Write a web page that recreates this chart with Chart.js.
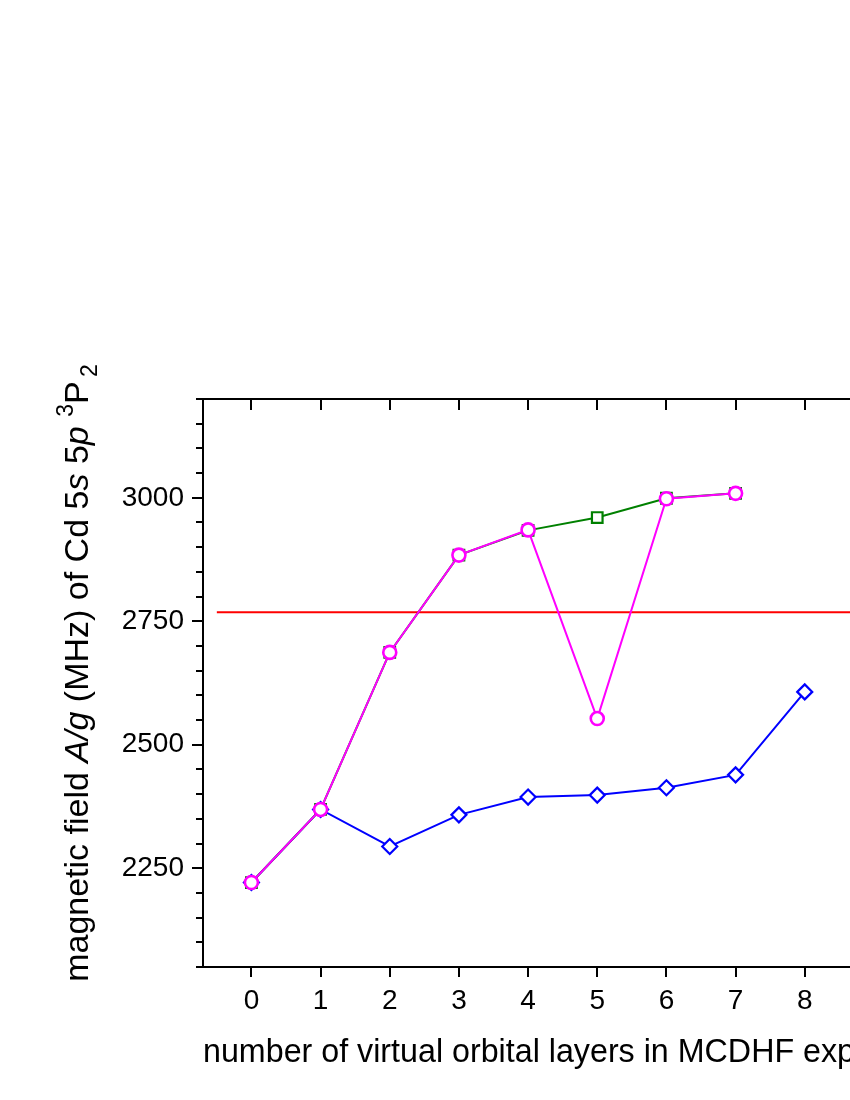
<!DOCTYPE html>
<html>
<head>
<meta charset="utf-8">
<script src="https://cdn.jsdelivr.net/npm/chart.js@4.4.0/dist/chart.umd.min.js"></script>
<style>
  html, body { margin: 0; padding: 0; background: #fff; overflow: hidden; }
  #wrap { position: relative; width: 1000px; height: 1100px; }
</style>
</head>
<body>
<div id="wrap"><canvas id="chart" width="1000" height="1100"></canvas></div>
<script>
// values
var layers = [0, 1, 2, 3, 4, 5, 6, 7, 8];
var diamondValues = [2221, 2369, 2294, 2358, 2394, 2398, 2413, 2439, 2607];
var squareValues = [2221, 2369, 2687, 2884, 2934, 2960, 2999, 3009];
var circleValues = [2221, 2369, 2687, 2884, 2935, 2553, 2998, 3009];
var referenceValue = 2768;
var referenceFrom = -0.5, referenceTo = 10;
var yLabelTicks = [2250, 2500, 2750, 3000];

var FONT = '"Liberation Sans", Arial, Helvetica, sans-serif';

function points(xs, ys) {
  return ys.map(function(v, i) { return { x: xs[i], y: v }; });
}

// frame + Origin style ticks (outward left/bottom, inward top)
var axisFrame = {
  id: 'axisFrame',
  afterDatasetsDraw: function(chart) {
    var ctx = chart.ctx, a = chart.chartArea;
    var xs = chart.scales.x, ys = chart.scales.y;
    ctx.save();
    ctx.strokeStyle = '#000';
    ctx.lineWidth = 2;
    ctx.lineCap = 'square';
    ctx.beginPath();
    ctx.moveTo(a.left, a.top); ctx.lineTo(a.right, a.top);
    ctx.moveTo(a.left, a.top); ctx.lineTo(a.left, a.bottom);
    ctx.moveTo(a.left, a.bottom); ctx.lineTo(a.right, a.bottom);
    ctx.moveTo(a.right, a.top); ctx.lineTo(a.right, a.bottom);
    ctx.stroke();
    ctx.lineCap = 'butt';
    ctx.beginPath();
    for (var i = Math.ceil(xs.min); i <= Math.floor(xs.max); i++) {
      var px = Math.round(xs.getPixelForValue(i));
      ctx.moveTo(px, a.bottom); ctx.lineTo(px, a.bottom + 10);
      ctx.moveTo(px, a.top); ctx.lineTo(px, a.top + 11);
    }
    ys.ticks.forEach(function(t) {
      var py = Math.round(ys.getPixelForValue(t.value));
      var len = (t.value % 250 === 0) ? 11 : 7;
      ctx.moveTo(a.left - len, py); ctx.lineTo(a.left, py);
      ctx.moveTo(a.right - len, py); ctx.lineTo(a.right, py);
    });
    ctx.stroke();
    ctx.restore();
  },
  afterDraw: function(chart) {
    // y title with italic parts, superscript and subscript
    var ctx = chart.ctx;
    var size = 34;
    var runs = [
      { t: 'magnetic field ', s: '' },
      { t: 'A/g', s: 'italic ' },
      { t: ' (MHz) of Cd 5', s: '' },
      { t: 's', s: 'italic ' },
      { t: ' 5', s: '' },
      { t: 'p', s: 'italic ' },
      { t: ' ', s: '' },
      { t: '3', s: '', sz: 23, dy: -15 },
      { t: 'P', s: '' },
      { t: ' ', s: '', sz: 16 },
      { t: '2', s: '', sz: 23, dy: 9 }
    ];
    ctx.save();
    var total = 0;
    runs.forEach(function(r) {
      ctx.font = r.s + (r.sz || size) + 'px ' + FONT;
      r.w = ctx.measureText(r.t).width;
      total += r.w;
    });
    ctx.translate(88, 673);
    ctx.rotate(-Math.PI / 2);
    ctx.fillStyle = '#000';
    ctx.textBaseline = 'alphabetic';
    ctx.textAlign = 'left';
    var x = -total / 2;
    runs.forEach(function(r) {
      ctx.font = r.s + (r.sz || size) + 'px ' + FONT;
      ctx.fillText(r.t, x, r.dy || 0);
      x += r.w;
    });
    ctx.restore();
  }
};

new Chart(document.getElementById('chart'), {
  type: 'line',
  data: {
    datasets: [
      {
        label: 'circles',
        data: points(layers, circleValues),
        borderColor: '#ff00ff',
        borderWidth: 2,
        pointStyle: 'circle',
        pointRadius: 6.5,
        pointBorderWidth: 2.6,
        pointBorderColor: '#ff00ff',
        pointBackgroundColor: '#ffffff',
        order: 0
      },
      {
        label: 'squares',
        data: points(layers, squareValues),
        borderColor: '#008000',
        borderWidth: 2,
        pointStyle: 'rect',
        pointRadius: 7.5,
        pointBorderWidth: 2.2,
        pointBorderColor: '#008000',
        pointBackgroundColor: '#ffffff',
        order: 1
      },
      {
        label: 'diamonds',
        data: points(layers, diamondValues),
        borderColor: '#0000ff',
        borderWidth: 2,
        pointStyle: 'rectRot',
        pointRadius: 7.5,
        pointBorderWidth: 2.2,
        pointBorderColor: '#0000ff',
        pointBackgroundColor: '#ffffff',
        order: 2
      },
      {
        label: 'reference',
        data: [{ x: referenceFrom, y: referenceValue }, { x: referenceTo, y: referenceValue }],
        borderColor: '#ff0000',
        borderWidth: 2,
        pointRadius: 0,
        order: 3
      }
    ]
  },
  options: {
    responsive: false,
    animation: false,
    layout: { padding: { top: 399, right: 50, bottom: 0, left: 0 } },
    plugins: {
      legend: { display: false },
      tooltip: { enabled: false }
    },
    scales: {
      x: {
        type: 'linear',
        min: -0.7,
        max: 10.1,
        grid: { display: false, drawTicks: false },
        border: { display: false },
        ticks: {
          stepSize: 1,
          includeBounds: false,
          autoSkip: false,
          maxRotation: 0,
          padding: 17,
          color: '#000',
          font: { family: FONT, size: 28 },
          callback: function(v) { return Number.isInteger(v) && v >= 0 ? String(v) : ''; }
        },
        title: {
          display: true,
          text: 'number of virtual orbital layers in MCDHF expansion',
          color: '#000',
          font: { family: FONT, size: 33 },
          padding: { top: 0, bottom: 27 }
        },
        afterFit: function(scale) { scale.height = 133; }
      },
      y: {
        min: 2050,
        max: 3200,
        grid: { display: false, drawTicks: false },
        border: { display: false },
        ticks: {
          stepSize: 50,
          autoSkip: false,
          padding: 19,
          color: '#000',
          font: { family: FONT, size: 28 },
          callback: function(v) { return yLabelTicks.indexOf(v) >= 0 ? String(v) : ''; }
        },
        afterFit: function(scale) { scale.width = 203; }
      }
    }
  },
  plugins: [axisFrame]
});
</script>
</body>
</html>
